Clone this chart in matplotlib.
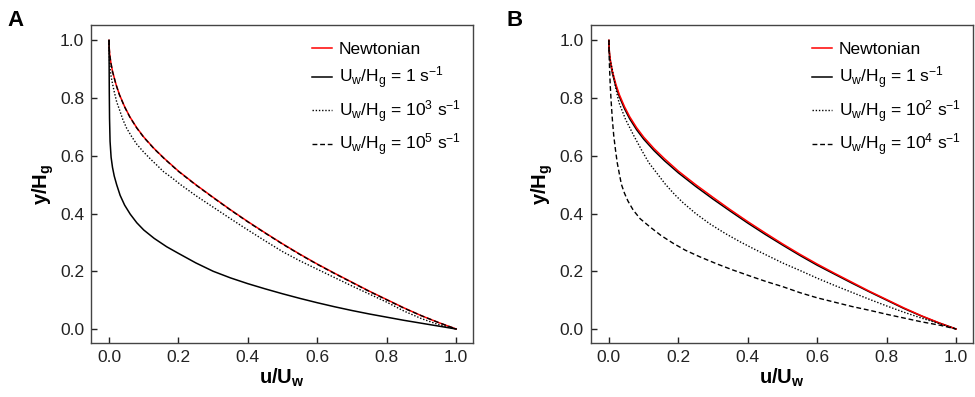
import matplotlib
matplotlib.use("Agg")
import matplotlib.pyplot as plt

plt.rcParams['font.family'] = ['Liberation Sans', 'DejaVu Sans']
plt.rcParams['mathtext.fontset'] = 'custom'
plt.rcParams['mathtext.rm'] = 'Liberation Sans'
plt.rcParams['mathtext.it'] = 'Liberation Sans:italic'
plt.rcParams['mathtext.bf'] = 'Liberation Sans:bold'

#### data ----------------------------------------------------------

# Newtonian profile (same in both panels)
newt_u = [0, 0.0005, 0.002, 0.005, 0.01, 0.02, 0.03, 0.045, 0.06, 0.08, 0.10, 0.13, 0.16, 0.20, 0.25,
          0.30, 0.35, 0.40, 0.45, 0.50, 0.55, 0.60, 0.65, 0.70, 0.75, 0.80, 0.85, 0.90, 0.95, 1.0]
newt_y = [1.0, 0.975, 0.952, 0.925, 0.893, 0.848, 0.812, 0.770, 0.735, 0.697, 0.665, 0.625, 0.590, 0.547, 0.500,
          0.456, 0.413, 0.372, 0.333, 0.295, 0.259, 0.225, 0.193, 0.162, 0.131, 0.102, 0.073, 0.046, 0.022, 0.0]

# panel A
a_s1_u = [0, 0.0003, 0.0008, 0.0015, 0.003, 0.006, 0.010, 0.015, 0.022, 0.032, 0.045, 0.061, 0.08, 0.10, 0.13,
          0.166, 0.20, 0.25, 0.30, 0.35, 0.40, 0.45, 0.50, 0.55, 0.60, 0.65, 0.70, 0.75, 0.80, 0.85, 0.90, 0.95, 1.0]
a_s1_y = [1.0, 0.92, 0.82, 0.73, 0.65, 0.595, 0.560, 0.530, 0.500, 0.463, 0.429, 0.398, 0.368, 0.343, 0.314,
          0.285, 0.262, 0.229, 0.200, 0.177, 0.157, 0.139, 0.122, 0.106, 0.091, 0.077, 0.064, 0.052, 0.041, 0.030, 0.020, 0.010, 0.0]

a_s3_u = [0, 0.0005, 0.0015, 0.003, 0.006, 0.010, 0.015, 0.022, 0.030, 0.040, 0.051, 0.065, 0.080, 0.099, 0.12,
          0.14, 0.157, 0.18, 0.205, 0.25, 0.30, 0.35, 0.40, 0.45, 0.50, 0.55, 0.60, 0.65, 0.70, 0.75, 0.80, 0.85,
          0.90, 0.95, 1.0]
a_s3_y = [1.0, 0.955, 0.925, 0.903, 0.875, 0.850, 0.822, 0.787, 0.760, 0.725, 0.695, 0.667, 0.640, 0.614, 0.588,
          0.565, 0.545, 0.525, 0.501, 0.462, 0.422, 0.382, 0.343, 0.305, 0.268, 0.236, 0.207, 0.178, 0.149, 0.121, 0.093, 0.062,
          0.036, 0.015, 0.0]

a_s5_u = [0, 0.0005, 0.002, 0.005, 0.01, 0.02, 0.03, 0.045, 0.06, 0.08, 0.10, 0.13, 0.16, 0.20, 0.25,
          0.30, 0.35, 0.40, 0.45, 0.50, 0.55, 0.60, 0.65, 0.70, 0.75, 0.80, 0.85, 0.90, 0.95, 1.0]
a_s5_y = [1.0, 0.975, 0.951, 0.924, 0.892, 0.847, 0.811, 0.769, 0.734, 0.696, 0.664, 0.624, 0.589, 0.546, 0.499,
          0.455, 0.412, 0.371, 0.332, 0.294, 0.258, 0.224, 0.192, 0.161, 0.130, 0.101, 0.072, 0.046, 0.022, 0.0]

# panel B
b_s1_u = [0, 0.0005, 0.002, 0.005, 0.01, 0.02, 0.03, 0.045, 0.06, 0.08, 0.10, 0.13, 0.16, 0.20, 0.25,
          0.30, 0.35, 0.40, 0.45, 0.50, 0.55, 0.60, 0.65, 0.70, 0.75, 0.80, 0.85, 0.90, 0.95, 1.0]
b_s1_y = [1.0, 0.972, 0.947, 0.919, 0.886, 0.841, 0.805, 0.763, 0.728, 0.690, 0.658, 0.618, 0.583, 0.541, 0.494,
          0.450, 0.408, 0.367, 0.328, 0.291, 0.255, 0.221, 0.190, 0.159, 0.129, 0.100, 0.071, 0.045, 0.021, 0.0]

b_s2_u = [0, 0.0005, 0.002, 0.005, 0.0096, 0.018, 0.029, 0.048, 0.072, 0.095, 0.115, 0.14, 0.163, 0.19, 0.214,
          0.25, 0.291, 0.335, 0.378, 0.42, 0.454, 0.50, 0.55, 0.60, 0.65, 0.70, 0.75, 0.80, 0.85, 0.90, 0.954, 1.0]
b_s2_y = [1.0, 0.968, 0.945, 0.925, 0.900, 0.845, 0.784, 0.726, 0.669, 0.618, 0.576, 0.537, 0.501, 0.465, 0.437,
          0.400, 0.364, 0.331, 0.302, 0.276, 0.256, 0.229, 0.203, 0.176, 0.151, 0.127, 0.103, 0.080, 0.058, 0.038, 0.018, 0.0]

b_s4_u = [0, 0.0005, 0.001, 0.002, 0.004, 0.0067, 0.010, 0.014, 0.019, 0.024, 0.030, 0.036, 0.045, 0.055, 0.070,
          0.09, 0.118, 0.15, 0.185, 0.22, 0.262, 0.31, 0.358, 0.41, 0.454, 0.50, 0.55, 0.60, 0.65, 0.70, 0.75,
          0.80, 0.85, 0.90, 0.954, 1.0]
b_s4_y = [1.0, 0.96, 0.935, 0.90, 0.84, 0.784, 0.725, 0.669, 0.62, 0.576, 0.538, 0.501, 0.470, 0.443, 0.412,
          0.382, 0.354, 0.324, 0.297, 0.273, 0.250, 0.226, 0.204, 0.182, 0.164, 0.147, 0.126, 0.108, 0.093, 0.078, 0.065,
          0.051, 0.038, 0.025, 0.013, 0.0]

xticks = [0.0, 0.2, 0.4, 0.6, 0.8, 1.0]
yticks = [0.0, 0.2, 0.4, 0.6, 0.8, 1.0]

lab_newt = 'Newtonian'
lab_a = [r'U$_\mathrm{w}$/H$_\mathrm{g}$ = 1 s$^{-1}$',
         r'U$_\mathrm{w}$/H$_\mathrm{g}$ = 10$^{3}$ s$^{-1}$',
         r'U$_\mathrm{w}$/H$_\mathrm{g}$ = 10$^{5}$ s$^{-1}$']
lab_b = [r'U$_\mathrm{w}$/H$_\mathrm{g}$ = 1 s$^{-1}$',
         r'U$_\mathrm{w}$/H$_\mathrm{g}$ = 10$^{2}$ s$^{-1}$',
         r'U$_\mathrm{w}$/H$_\mathrm{g}$ = 10$^{4}$ s$^{-1}$']

#### plot -----------------------------------------------------------

dotted = (0, (1, 1.3))
dashed = (0, (3.5, 2))

fig = plt.figure(figsize=(9.75, 3.97), dpi=100)
axA = fig.add_axes([0.0933, 0.136, 0.392, 0.801])
axB = fig.add_axes([0.606, 0.136, 0.392, 0.801])


def style_axes(ax):
    ax.set_xlim(-0.052, 1.049)
    ax.set_ylim(-0.0485, 1.053)
    ax.set_xticks(xticks)
    ax.set_yticks(yticks)
    ax.set_xticklabels([f'{t:.1f}' for t in xticks])
    ax.set_yticklabels([f'{t:.1f}' for t in yticks])
    ax.tick_params(direction='in', length=4, width=1, labelsize=12.5, colors='#222222', pad=5)
    for s in ax.spines.values():
        s.set_color('#444444')
        s.set_linewidth(1)
    ax.set_xlabel(r'$\mathbf{u/U_w}$', fontsize=14.5, labelpad=1)
    ax.set_ylabel(r'$\mathbf{y/H_g}$', fontsize=14.5, labelpad=3)


# A
axA.plot(newt_u, newt_y, color='red', lw=1.1, label=lab_newt)
axA.plot(a_s1_u, a_s1_y, color='black', lw=1.1, label=lab_a[0])
axA.plot(a_s3_u, a_s3_y, color='black', lw=1.0, ls=dotted, label=lab_a[1])
axA.plot(a_s5_u, a_s5_y, color='black', lw=1.0, ls=dashed, label=lab_a[2])
style_axes(axA)

# B
axB.plot(b_s1_u, b_s1_y, color='black', lw=1.1, label=lab_b[0])
axB.plot(newt_u, newt_y, color='red', lw=1.1, label=lab_newt)
axB.plot(b_s2_u, b_s2_y, color='black', lw=1.0, ls=dotted, label=lab_b[1])
axB.plot(b_s4_u, b_s4_y, color='black', lw=1.0, ls=dashed, label=lab_b[2])
style_axes(axB)

for ax in (axA, axB):
    h, l = ax.get_legend_handles_labels()
    order = [l.index(lab_newt)] + [i for i in range(len(l)) if l[i] != lab_newt]
    ax.legend([h[i] for i in order], [l[i] for i in order],
              loc='upper right', frameon=False, fontsize=12.5, handlelength=1.15,
              handletextpad=0.4, labelspacing=0.42, borderaxespad=0.3,
              bbox_to_anchor=(1.0, 0.985))

fig.text(0.008, 0.975, 'A', fontsize=16, fontweight='bold', va='top')
fig.text(0.519, 0.975, 'B', fontsize=16, fontweight='bold', va='top')

fig.savefig('out.png', dpi=100)
